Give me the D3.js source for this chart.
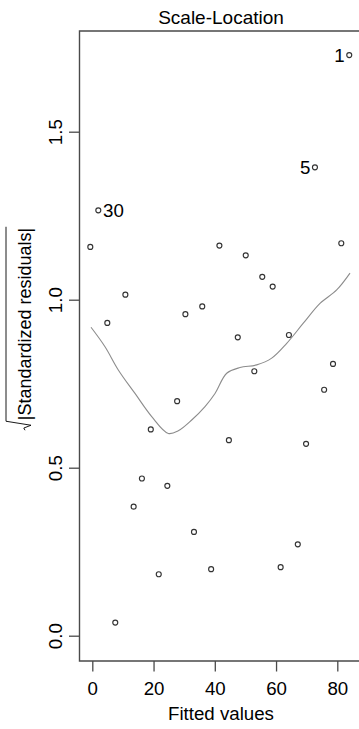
<!DOCTYPE html>
<html><head><meta charset="utf-8">
<script src="https://cdn.jsdelivr.net/npm/d3@7"></script>
<style>html,body{margin:0;padding:0;background:#fff;overflow:hidden}</style>
</head><body><svg id="chart" width="359" height="729"></svg>
<script>
// ---- data ----
const fittedValues = [83.9, 72.7, 1.96, -0.65, 41.5, 50.1, 55.5, 58.9, 81.3, 10.8,
  4.9, 30.4, 35.9, 47.5, 64.2, 78.6, 52.9, 75.7, 27.7, 19.1,
  44.6, 69.8, 16.2, 24.5, 13.5, 33.2, 67.1, 21.7, 38.8, 61.5, 7.5];
const sqrtStdResiduals = [1.728, 1.394, 1.266, 1.157, 1.161, 1.132, 1.068, 1.039, 1.168, 1.015,
  0.931, 0.957, 0.980, 0.888, 0.895, 0.809, 0.787, 0.732, 0.698, 0.614,
  0.582, 0.571, 0.468, 0.446, 0.384, 0.309, 0.272, 0.183, 0.198, 0.204, 0.039];
const pointLabels = ["1", "5", "30"];          // labels of the first three points
const smoothX = [-0.42, 4.15, 8.49, 13.94, 19.40, 24.82, 28.08, 32.46, 36.80, 40.07,
  43.89, 48.23, 53.68, 58.58, 63.48, 68.90, 74.35, 79.80, 84.15];
const smoothY = [0.918, 0.860, 0.791, 0.721, 0.652, 0.602, 0.610, 0.642, 0.682, 0.721,
  0.781, 0.798, 0.806, 0.826, 0.870, 0.930, 0.989, 1.029, 1.079];
const xTicks = [0, 20, 40, 60, 80];
const yTicks = [0, 0.5, 1, 1.5];
const yTickLabels = ["0.0", "0.5", "1.0", "1.5"];
const title = "Scale-Location";
const xTitle = "Fitted values";
const yTitle = "|Standardized residuals|";

// ---- layout ----
const FONT = "'Liberation Sans', Arial, Helvetica, sans-serif";
const FS = 18.7;
const box = {left: 79.5, top: 31, bottom: 661, right: 380};
const svg = d3.select("#chart").style("font-family", FONT);

const x = d3.scaleLinear().domain([0, 80]).range([92.3, 337.3]);
const y = d3.scaleLinear().domain([0, 1.5]).range([635.7, 131.7]);

// title
svg.append("text").attr("x", 221).attr("y", 23.5).attr("text-anchor", "middle")
  .attr("font-size", 19).attr("fill", "#000").text(title);

// smooth line
const line = d3.line().x(d => x(d[0])).y(d => y(d[1])).curve(d3.curveCatmullRom.alpha(0.5));
svg.append("path").datum(d3.zip(smoothX, smoothY))
  .attr("d", line).attr("fill", "none").attr("stroke", "#8c8c8c").attr("stroke-width", 1.1);

// points
const pts = d3.zip(fittedValues, sqrtStdResiduals);
svg.append("g").selectAll("circle").data(pts).join("circle")
  .attr("cx", d => x(d[0])).attr("cy", d => y(d[1])).attr("r", 2.5)
  .attr("fill", "none").attr("stroke", "#333").attr("stroke-width", 1.15);

// point labels
const xMid = (d3.min(fittedValues) + d3.max(fittedValues)) / 2;
svg.append("g").selectAll("text").data(pointLabels).join("text")
  .attr("x", (l, i) => x(fittedValues[i]) + (fittedValues[i] > xMid ? -4.5 : 4.8))
  .attr("y", (l, i) => y(sqrtStdResiduals[i]) + 6.8)
  .attr("text-anchor", (l, i) => fittedValues[i] > xMid ? "end" : "start")
  .attr("font-size", FS).attr("fill", "#000").text(l => l);

// box
svg.append("path")
  .attr("d", `M${box.right},${box.top}H${box.left}V${box.bottom}H${box.right}`)
  .attr("fill", "none").attr("stroke", "#4a4a4a").attr("stroke-width", 1.4);

// x axis
const xAxis = svg.append("g").attr("transform", `translate(0,${box.bottom})`)
  .call(d3.axisBottom(x).tickValues(xTicks).tickSize(10.5).tickPadding(10.5).tickFormat(d3.format("d")));
xAxis.select(".domain").remove();
xAxis.selectAll("line").attr("stroke", "#4a4a4a").attr("stroke-width", 1.3);
xAxis.selectAll("text").attr("font-size", FS).attr("font-family", FONT).attr("fill", "#000");

// y axis
const yAxis = svg.append("g").attr("transform", `translate(${box.left},0)`)
  .call(d3.axisLeft(y).tickValues(yTicks).tickSize(10.5).tickFormat((d, i) => yTickLabels[i]));
yAxis.select(".domain").remove();
yAxis.selectAll("line").attr("stroke", "#4a4a4a").attr("stroke-width", 1.3);
yAxis.selectAll("text").attr("x", null).attr("dy", null)
  .attr("transform", "translate(-18,0) rotate(-90)")
  .attr("text-anchor", "middle").attr("font-size", FS).attr("font-family", FONT).attr("fill", "#000");

// x title
svg.append("text").attr("x", 221).attr("y", 720).attr("text-anchor", "middle")
  .attr("font-size", FS).attr("fill", "#000").text(xTitle);

// y title with radical sign
const yg = svg.append("g").attr("transform", "translate(31,329) rotate(-90)");
const radW = 9;
const yt = yg.append("text").attr("font-size", 18).attr("fill", "#000").text(yTitle);
const tw = yt.node().getComputedTextLength();
const total = tw + radW + 1;
yt.attr("x", -total / 2 + radW + 1);
const x0 = -total / 2;
yg.append("path")
  .attr("d", `M${x0},${-6}L${x0 + 2.2},${-7.2}L${x0 + 5},${0}L${x0 + radW},${-25}H${total / 2 + 1}`)
  .attr("fill", "none").attr("stroke", "#000").attr("stroke-width", 0.9);
</script></body></html>
